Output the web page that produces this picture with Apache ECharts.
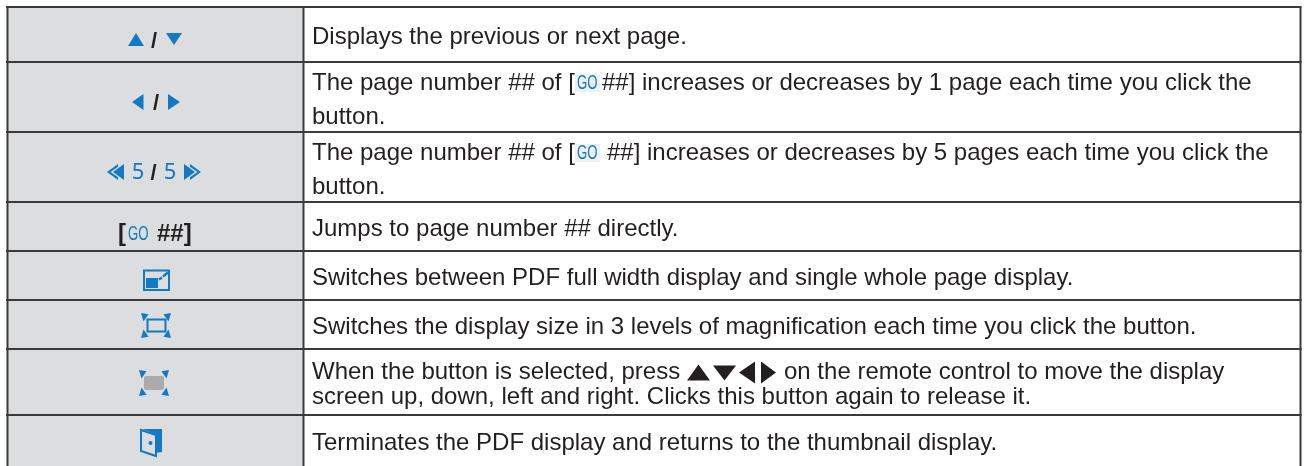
<!DOCTYPE html>
<html><head><meta charset="utf-8">
<style>html,body{margin:0;padding:0;background:#fff}#c{width:1304px;height:466px}</style>
<script src="https://cdn.jsdelivr.net/npm/echarts@6/dist/echarts.min.js"></script>
</head><body><div id="c"></div>
<script>
const rowEdges = [7, 62, 132, 202, 251, 300, 349, 415, 473];
const buttonIcons = ['updown', 'leftright', 'fivefive', 'go', 'fit', 'zoom', 'pan', 'exit'];
const descriptions = [
  ['Displays the previous or next page.'],
  ['The page number ## of [|GO|##] increases or decreases by 1 page each time you click the', 'button.'],
  ['The page number ## of [|GO|##] increases or decreases by 5 pages each time you click the', 'button.'],
  ['Jumps to page number ## directly.'],
  ['Switches between PDF full width display and single whole page display.'],
  ['Switches the display size in 3 levels of magnification each time you click the button.'],
  ['When the button is selected, press', 'screen up, down, left and right. Clicks this button again to release it.'],
  ['Terminates the PDF display and returns to the thumbnail display.']
];
const panTail = 'on the remote control to move the display';
const ink = '#231f20', blue = '#1279c4', cellGrey = '#dcddde', rule = '#3a3a3a';
const FONT = '"Liberation Sans", Arial, sans-serif';
const chart = echarts.init(document.getElementById('c'), null, {renderer: 'canvas'});
const poly = (pts, fill) => ({type: 'polygon', shape: {points: pts}, style: {fill}});
const off = (cx, cy, pts) => pts.map(p => [cx + p[0], cy + p[1]]);
const tx = (x, y, text, extra) => ({type: 'text', x, y, style: Object.assign({text, fill: ink, font: '24px ' + FONT, textAlign: 'left', textVerticalAlign: 'middle'}, extra || {})});
const box = (x, y, w, h, fill, r) => ({type: 'rect', shape: {x, y, width: w, height: h, r: r || 0}, style: {fill}});
const stroke = (x, y, w, h, col, lw) => ({type: 'rect', shape: {x, y, width: w, height: h}, style: {fill: 'none', stroke: col, lineWidth: lw}});
const goMark = (x, y, size) => Object.assign(tx(x, y, 'GO', {font: size + 'px "Liberation Sans Narrow", ' + FONT, fill: blue}), {scaleX: 0.66});
function corners(cx, cy, hw, hh) {
  const a = 7.5, b = 1.2, c = 2.5, d = 8.5;
  return [
    poly([[cx - hw, cy - hh], [cx - hw + a, cy - hh + b], [cx - hw + c, cy - hh + d]], blue),
    poly([[cx + hw, cy - hh], [cx + hw - a, cy - hh + b], [cx + hw - c, cy - hh + d]], blue),
    poly([[cx - hw, cy + hh], [cx - hw + a, cy + hh - b], [cx - hw + c, cy + hh - d]], blue),
    poly([[cx + hw, cy + hh], [cx + hw - a, cy + hh - b], [cx + hw - c, cy + hh - d]], blue)
  ];
}
function icon(name) {
  const slash = (x, y) => tx(x, y, '/', {font: 'bold 22px ' + FONT, textAlign: 'center'});
  const five = (x, y) => tx(x, y, '5', {fill: blue, textAlign: 'center', font: '22px "Noto Sans", sans-serif'});
  switch (name) {
    case 'updown': return [
      poly(off(136, 40, [[0, -7], [8, 6], [-8, 6]]), blue), slash(154, 42),
      poly(off(174, 39, [[-8, -6], [8, -6], [0, 6]]), blue)];
    case 'leftright': return [
      poly(off(138, 102, [[5.5, -8], [5.5, 8], [-6, 0]]), blue), slash(156, 104),
      poly(off(174, 102, [[-6, -8], [-6, 8], [6, 0]]), blue)];
    case 'fivefive': return [
      poly([[118, 164], [118, 180], [107, 172]], blue),
      poly([[125, 162], [125, 182], [110.5, 172]], cellGrey),
      poly([[124, 164], [124, 180], [113, 172]], blue),
      five(138, 173), slash(153.5, 174), five(170, 173),
      poly([[190, 164], [190, 180], [201, 172]], blue),
      poly([[183, 162], [183, 182], [197.5, 172]], cellGrey),
      poly([[184, 164], [184, 180], [195, 172]], blue)];
    case 'go': return [
      tx(118, 234, '[', {font: 'bold 24px ' + FONT}),
      goMark(128, 234, 20),
      tx(157, 234, '##]', {font: 'bold 24px ' + FONT})];
    case 'fit': return [
      stroke(144, 270.5, 25, 19.5, blue, 2),
      box(146, 278, 12, 10, blue),
      {type: 'line', shape: {x1: 159, y1: 279.5, x2: 162, y2: 277.5}, style: {stroke: blue, lineWidth: 2.5}},
      {type: 'line', shape: {x1: 163, y1: 276.5, x2: 168, y2: 272.5}, style: {stroke: blue, lineWidth: 2.5}}];
    case 'zoom': return corners(156, 325.5, 15, 12.5).concat([stroke(147.5, 319.5, 18, 12, blue, 2)]);
    case 'pan': return corners(154, 383, 15, 13).concat([box(144, 376, 20, 14, '#aaabad', 2)]);
    case 'exit': return [
      poly([[142, 429], [162, 429], [162, 452], [155, 453], [155, 434]], blue),
      poly([[141, 430], [156, 435], [156, 456], [141, 451]], cellGrey),
      {type: 'polygon', shape: {points: [[141, 430], [156, 435], [156, 456], [141, 451]]}, style: {fill: 'none', stroke: blue, lineWidth: 2}},
      {type: 'circle', shape: {cx: 150.5, cy: 443, r: 2}, style: {fill: blue}}];
  }
  return [];
}
function renderRow(params, api) {
  const i = api.value(0);
  const top = api.coord([0, rowEdges[i]])[1];
  const bot = api.coord([0, rowEdges[i + 1]])[1];
  const mid = (top + bot) / 2;
  const kids = [
    box(7, top, 296, bot - top, cellGrey),
    {type: 'line', shape: {x1: 6, y1: top, x2: 1301.5, y2: top}, style: {stroke: rule, lineWidth: 2}},
    {type: 'line', shape: {x1: 7.5, y1: top, x2: 7.5, y2: bot}, style: {stroke: rule, lineWidth: 2}},
    {type: 'line', shape: {x1: 303.5, y1: top, x2: 303.5, y2: bot}, style: {stroke: rule, lineWidth: 2}},
    {type: 'line', shape: {x1: 1300.5, y1: top, x2: 1300.5, y2: bot}, style: {stroke: rule, lineWidth: 2}}
  ];
  kids.push.apply(kids, icon(buttonIcons[i]));
  const lines = descriptions[i];
  const lh = i === 6 ? 25 : 34;
  const y0 = lines.length === 1 ? (i === 7 ? mid - 1 : mid + 3) : mid + 3 - lh / 2;
  lines.forEach((t, k) => {
    const y = y0 + k * lh;
    const parts = t.split('|');
    if (parts.length === 3) {
      const tailX = i === 1 ? 602 : 607;
      kids.push(box(575, y - 9, 25, 18, '#eef1f4'));
      kids.push(tx(312, y, parts[0]));
      kids.push(goMark(577, y, 20));
      kids.push(tx(tailX, y, parts[2]));
    } else {
      kids.push(tx(312, y, t));
    }
  });
  if (i === 6) {
    const y = y0;
    kids.push(poly(off(698.5, y, [[0, -8], [11.5, 8], [-11.5, 8]]), ink));
    kids.push(poly(off(724.5, y, [[-11.5, -7], [11.5, -7], [0, 8]]), ink));
    kids.push(poly(off(747, y, [[8, -11], [8, 11], [-8, 0]]), ink));
    kids.push(poly(off(768.5, y, [[-7.5, -11], [-7.5, 11], [7.5, 0]]), ink));
    kids.push(tx(784, y, panTail));
  }
  return {type: 'group', children: kids};
}
chart.setOption({
  animation: false,
  grid: {left: 0, right: 0, top: 0, bottom: 0},
  xAxis: {type: 'value', min: 0, max: 1304, show: false},
  yAxis: {type: 'value', min: 0, max: 466, inverse: true, show: false},
  series: [{type: 'custom', coordinateSystem: 'cartesian2d', clip: false, renderItem: renderRow,
    data: buttonIcons.map((n, i) => [i, rowEdges[i]]), encode: {x: 0, y: 1}}]
});
</script></body></html>
